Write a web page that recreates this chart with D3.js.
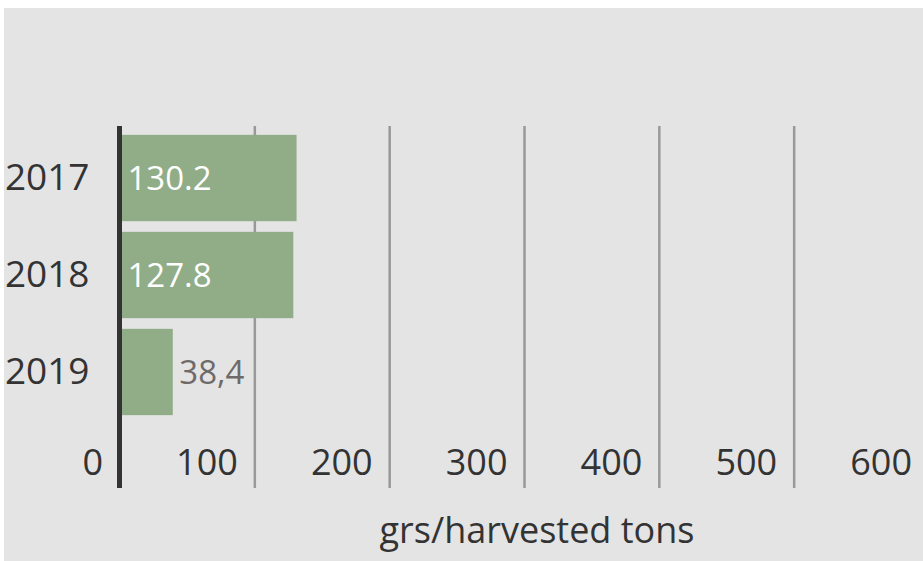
<!DOCTYPE html>
<html>
<head>
<meta charset="utf-8">
<script src="https://cdn.jsdelivr.net/npm/d3@7"></script>
<style>
  html, body { margin: 0; padding: 0; background: #ffffff; }
  svg { display: block; }
  text { font-family: "Open Sans", "Noto Sans", sans-serif; }
</style>
</head>
<body>
<script>
let years = ["2017", "2018", "2019"];
let values = [130.2, 127.8, 38.4];
let valueLabels = ["130.2", "127.8", "38,4"];
let ticks = [0, 100, 200, 300, 400, 500, 600];
let axisTitle = "grs/harvested tons";

let width = 923;
let height = 561;

let svg = d3.select("body")
  .append("svg")
  .attr("width", width)
  .attr("height", height);

// grey panel
svg.append("rect")
  .attr("x", 4)
  .attr("y", 8)
  .attr("width", width - 4)
  .attr("height", height - 8)
  .attr("fill", "#e4e4e4");

let xScale = d3.scaleLinear()
  .domain([0, 600])
  .range([119.5, 928.5]);

let yScale = d3.scaleBand()
  .domain(years)
  .range([130, 420])
  .paddingInner(0.11)
  .paddingOuter(0.05);

// gridlines
let xAxis = d3.axisBottom(xScale)
  .tickValues(ticks.slice(1))
  .tickSize(-(488 - 126))
  .tickFormat("");

let gx = svg.append("g")
  .attr("id", "x-grid")
  .attr("transform", "translate(0,488)")
  .call(xAxis);
gx.select(".domain").remove();
gx.selectAll(".tick line")
  .attr("stroke", "#999999")
  .attr("stroke-width", 2.5);

// tick labels, sitting left of each gridline
svg.append("g")
  .selectAll("text")
  .data(ticks)
  .join("text")
  .attr("x", (d) => xScale(d) - 16.5)
  .attr("y", 462)
  .attr("dy", "0.35em")
  .attr("text-anchor", "end")
  .attr("font-size", 36)
  .attr("fill", "#333333")
  .text((d) => d);

// bars
svg.append("g")
  .selectAll("rect")
  .data(values)
  .join("rect")
  .attr("x", xScale(0) + 1.5)
  .attr("y", (d, i) => yScale(years[i]))
  .attr("width", (d) => xScale(d) - xScale(0))
  .attr("height", yScale.bandwidth())
  .attr("fill", "#90ad88");

// value labels
svg.append("g")
  .selectAll("text")
  .data(values)
  .join("text")
  .attr("x", (d) => d > 80 ? xScale(0) + 8 : xScale(d) + 8)
  .attr("y", (d, i) => yScale(years[i]) + yScale.bandwidth() / 2)
  .attr("dy", "0.35em")
  .attr("font-size", 33)
  .attr("fill", (d) => d > 80 ? "#ffffff" : "#6f6a6a")
  .text((d, i) => valueLabels[i]);

// category axis
let yAxis = d3.axisLeft(yScale).tickSize(0).tickPadding(30);
let gy = svg.append("g")
  .attr("id", "y-axis")
  .attr("transform", "translate(" + xScale(0) + ",0)")
  .call(yAxis);
gy.select(".domain").remove();
gy.selectAll("text")
  .attr("font-size", 37)
  .attr("fill", "#333333")
  .attr("font-family", "Open Sans, Noto Sans, sans-serif");

svg.append("line")
  .attr("x1", xScale(0))
  .attr("x2", xScale(0))
  .attr("y1", 126)
  .attr("y2", 488)
  .attr("stroke", "#333333")
  .attr("stroke-width", 5);

svg.append("text")
  .attr("x", 537)
  .attr("y", 530)
  .attr("dy", "0.35em")
  .attr("text-anchor", "middle")
  .attr("font-size", 36)
  .attr("fill", "#333333")
  .text(axisTitle);
</script>
</body>
</html>
